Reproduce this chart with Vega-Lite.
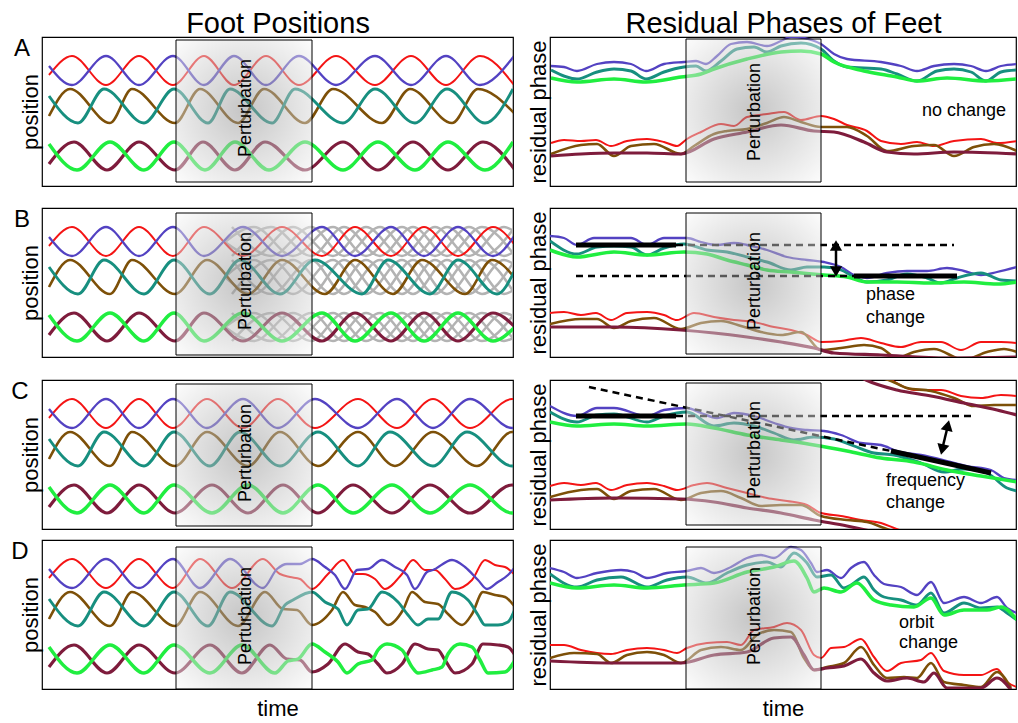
{
"$schema":"https://vega.github.io/schema/vega-lite/v6.json",
"background":"white",
"padding":{"left":10,"top":8,"right":0,"bottom":0},
"config":{"view":{"stroke":"black","strokeWidth":1.2},"font":"Liberation Sans","range":{"category":["#f41414","#5342c2","#7d5008","#178f7f","#7e1c3c","#20ee40"]}},
"datasets":{
"L":[
{"p":"*","f":1,"t":7,"v":111},{"p":"*","f":1,"t":30,"v":130},{"p":"*","f":1,"t":64,"v":101},{"p":"*","f":1,"t":97,"v":130},{"p":"*","f":1,"t":131,"v":101},
{"p":"*","f":2,"t":7,"v":120},{"p":"*","f":2,"t":30,"v":101},{"p":"*","f":2,"t":64,"v":130},{"p":"*","f":2,"t":97,"v":101},{"p":"*","f":2,"t":131,"v":130},
{"p":"*","f":3,"t":7,"v":70},{"p":"*","f":3,"t":28,"v":97},{"p":"*","f":3,"t":68,"v":63},{"p":"*","f":3,"t":90,"v":97},{"p":"*","f":3,"t":133,"v":63},
{"p":"*","f":4,"t":7,"v":90},{"p":"*","f":4,"t":36,"v":63},{"p":"*","f":4,"t":62,"v":97},{"p":"*","f":4,"t":102,"v":63},{"p":"*","f":4,"t":132,"v":97},
{"p":"*","f":5,"t":7,"v":22},{"p":"*","f":5,"t":32,"v":44},{"p":"*","f":5,"t":65,"v":16},{"p":"*","f":5,"t":97,"v":44},{"p":"*","f":5,"t":133,"v":16},
{"p":"*","f":6,"t":7,"v":42},{"p":"*","f":6,"t":35,"v":16},{"p":"*","f":6,"t":68,"v":44},{"p":"*","f":6,"t":102,"v":16},{"p":"*","f":6,"t":132,"v":44},
{"p":"A","f":1,"t":162,"v":130},{"p":"A","f":1,"t":192,"v":101},{"p":"A","f":1,"t":224,"v":130},{"p":"A","f":1,"t":257,"v":101},{"p":"A","f":1,"t":294,"v":130},{"p":"A","f":1,"t":333,"v":101},{"p":"A","f":1,"t":369,"v":130},{"p":"A","f":1,"t":404,"v":101},{"p":"A","f":1,"t":438,"v":130},{"p":"A","f":1,"t":472,"v":101},
{"p":"A","f":2,"t":162,"v":101},{"p":"A","f":2,"t":192,"v":130},{"p":"A","f":2,"t":224,"v":101},{"p":"A","f":2,"t":257,"v":130},{"p":"A","f":2,"t":294,"v":101},{"p":"A","f":2,"t":333,"v":130},{"p":"A","f":2,"t":369,"v":101},{"p":"A","f":2,"t":404,"v":130},{"p":"A","f":2,"t":438,"v":101},{"p":"A","f":2,"t":472,"v":130},
{"p":"A","f":3,"t":158,"v":97},{"p":"A","f":3,"t":196,"v":63},{"p":"A","f":3,"t":222,"v":97},{"p":"A","f":3,"t":263,"v":63},{"p":"A","f":3,"t":291,"v":97},{"p":"A","f":3,"t":340,"v":63},{"p":"A","f":3,"t":368,"v":97},{"p":"A","f":3,"t":410,"v":63},{"p":"A","f":3,"t":436,"v":97},{"p":"A","f":3,"t":473,"v":72},
{"p":"A","f":4,"t":166,"v":63},{"p":"A","f":4,"t":188,"v":97},{"p":"A","f":4,"t":230,"v":63},{"p":"A","f":4,"t":253,"v":97},{"p":"A","f":4,"t":301,"v":63},{"p":"A","f":4,"t":333,"v":97},{"p":"A","f":4,"t":373,"v":63},{"p":"A","f":4,"t":405,"v":97},{"p":"A","f":4,"t":443,"v":63},{"p":"A","f":4,"t":471,"v":97},
{"p":"A","f":5,"t":161,"v":44},{"p":"A","f":5,"t":193,"v":16},{"p":"A","f":5,"t":223,"v":44},{"p":"A","f":5,"t":263,"v":16},{"p":"A","f":5,"t":301,"v":44},{"p":"A","f":5,"t":336,"v":16},{"p":"A","f":5,"t":371,"v":44},{"p":"A","f":5,"t":406,"v":16},{"p":"A","f":5,"t":441,"v":44},{"p":"A","f":5,"t":473,"v":16},
{"p":"A","f":6,"t":163,"v":16},{"p":"A","f":6,"t":193,"v":44},{"p":"A","f":6,"t":227,"v":16},{"p":"A","f":6,"t":263,"v":44},{"p":"A","f":6,"t":301,"v":16},{"p":"A","f":6,"t":336,"v":44},{"p":"A","f":6,"t":373,"v":16},{"p":"A","f":6,"t":406,"v":44},{"p":"A","f":6,"t":443,"v":16},{"p":"A","f":6,"t":471,"v":44},
{"p":"B","f":1,"t":162,"v":130},{"p":"B","f":1,"t":201,"v":101},{"p":"B","f":1,"t":240,"v":130},{"p":"B","f":1,"t":280,"v":101},{"p":"B","f":1,"t":313,"v":130},{"p":"B","f":1,"t":349,"v":101},{"p":"B","f":1,"t":382,"v":130},{"p":"B","f":1,"t":416,"v":101},{"p":"B","f":1,"t":451,"v":130},{"p":"B","f":1,"t":473,"v":112},
{"p":"B","f":2,"t":162,"v":101},{"p":"B","f":2,"t":201,"v":130},{"p":"B","f":2,"t":240,"v":101},{"p":"B","f":2,"t":280,"v":130},{"p":"B","f":2,"t":313,"v":101},{"p":"B","f":2,"t":349,"v":130},{"p":"B","f":2,"t":382,"v":101},{"p":"B","f":2,"t":416,"v":130},{"p":"B","f":2,"t":451,"v":101},{"p":"B","f":2,"t":473,"v":122},
{"p":"B","f":3,"t":165,"v":97},{"p":"B","f":3,"t":206,"v":63},{"p":"B","f":3,"t":240,"v":97},{"p":"B","f":3,"t":283,"v":63},{"p":"B","f":3,"t":313,"v":97},{"p":"B","f":3,"t":351,"v":63},{"p":"B","f":3,"t":380,"v":97},{"p":"B","f":3,"t":423,"v":63},{"p":"B","f":3,"t":450,"v":97},{"p":"B","f":3,"t":473,"v":79},
{"p":"B","f":4,"t":168,"v":63},{"p":"B","f":4,"t":198,"v":97},{"p":"B","f":4,"t":238,"v":63},{"p":"B","f":4,"t":273,"v":97},{"p":"B","f":4,"t":320,"v":63},{"p":"B","f":4,"t":346,"v":97},{"p":"B","f":4,"t":388,"v":63},{"p":"B","f":4,"t":416,"v":97},{"p":"B","f":4,"t":455,"v":63},{"p":"B","f":4,"t":473,"v":87},
{"p":"B","f":5,"t":162,"v":44},{"p":"B","f":5,"t":201,"v":16},{"p":"B","f":5,"t":240,"v":44},{"p":"B","f":5,"t":280,"v":16},{"p":"B","f":5,"t":313,"v":44},{"p":"B","f":5,"t":349,"v":16},{"p":"B","f":5,"t":382,"v":44},{"p":"B","f":5,"t":416,"v":16},{"p":"B","f":5,"t":451,"v":44},{"p":"B","f":5,"t":473,"v":30},
{"p":"B","f":6,"t":162,"v":16},{"p":"B","f":6,"t":201,"v":44},{"p":"B","f":6,"t":240,"v":16},{"p":"B","f":6,"t":280,"v":44},{"p":"B","f":6,"t":313,"v":16},{"p":"B","f":6,"t":349,"v":44},{"p":"B","f":6,"t":382,"v":16},{"p":"B","f":6,"t":416,"v":44},{"p":"B","f":6,"t":451,"v":16},{"p":"B","f":6,"t":473,"v":30},
{"p":"C","f":1,"t":165,"v":130},{"p":"C","f":1,"t":201,"v":101},{"p":"C","f":1,"t":236,"v":130},{"p":"C","f":1,"t":273,"v":101},{"p":"C","f":1,"t":316,"v":130},{"p":"C","f":1,"t":355,"v":101},{"p":"C","f":1,"t":391,"v":130},{"p":"C","f":1,"t":428,"v":101},{"p":"C","f":1,"t":470,"v":130},{"p":"C","f":1,"t":476,"v":129},
{"p":"C","f":2,"t":165,"v":101},{"p":"C","f":2,"t":201,"v":130},{"p":"C","f":2,"t":236,"v":101},{"p":"C","f":2,"t":273,"v":130},{"p":"C","f":2,"t":316,"v":101},{"p":"C","f":2,"t":355,"v":130},{"p":"C","f":2,"t":391,"v":101},{"p":"C","f":2,"t":428,"v":130},{"p":"C","f":2,"t":470,"v":101},{"p":"C","f":2,"t":476,"v":102},
{"p":"C","f":3,"t":165,"v":97},{"p":"C","f":3,"t":206,"v":63},{"p":"C","f":3,"t":238,"v":97},{"p":"C","f":3,"t":276,"v":63},{"p":"C","f":3,"t":316,"v":97},{"p":"C","f":3,"t":353,"v":63},{"p":"C","f":3,"t":391,"v":97},{"p":"C","f":3,"t":435,"v":63},{"p":"C","f":3,"t":470,"v":97},{"p":"C","f":3,"t":476,"v":96},
{"p":"C","f":4,"t":168,"v":63},{"p":"C","f":4,"t":198,"v":97},{"p":"C","f":4,"t":238,"v":63},{"p":"C","f":4,"t":276,"v":97},{"p":"C","f":4,"t":316,"v":63},{"p":"C","f":4,"t":348,"v":97},{"p":"C","f":4,"t":391,"v":63},{"p":"C","f":4,"t":425,"v":97},{"p":"C","f":4,"t":470,"v":63},{"p":"C","f":4,"t":476,"v":64},
{"p":"C","f":5,"t":170,"v":44},{"p":"C","f":5,"t":206,"v":16},{"p":"C","f":5,"t":241,"v":44},{"p":"C","f":5,"t":276,"v":16},{"p":"C","f":5,"t":311,"v":44},{"p":"C","f":5,"t":350,"v":16},{"p":"C","f":5,"t":388,"v":44},{"p":"C","f":5,"t":428,"v":16},{"p":"C","f":5,"t":470,"v":44},{"p":"C","f":5,"t":476,"v":43},
{"p":"C","f":6,"t":170,"v":16},{"p":"C","f":6,"t":206,"v":44},{"p":"C","f":6,"t":241,"v":16},{"p":"C","f":6,"t":276,"v":44},{"p":"C","f":6,"t":311,"v":16},{"p":"C","f":6,"t":350,"v":44},{"p":"C","f":6,"t":388,"v":16},{"p":"C","f":6,"t":428,"v":44},{"p":"C","f":6,"t":470,"v":16},{"p":"C","f":6,"t":476,"v":17},
{"p":"D","f":1,"t":158,"v":130},{"p":"D","f":1,"t":190,"v":101},{"p":"D","f":1,"t":221,"v":130},{"p":"D","f":1,"t":238,"v":115},{"p":"D","f":1,"t":248,"v":112},{"p":"D","f":1,"t":258,"v":110},{"p":"D","f":1,"t":270,"v":100},{"p":"D","f":1,"t":286,"v":115},{"p":"D","f":1,"t":301,"v":129},{"p":"D","f":1,"t":313,"v":115},{"p":"D","f":1,"t":321,"v":115},{"p":"D","f":1,"t":333,"v":110},{"p":"D","f":1,"t":343,"v":100},{"p":"D","f":1,"t":360,"v":115},{"p":"D","f":1,"t":371,"v":129},{"p":"D","f":1,"t":383,"v":119},{"p":"D","f":1,"t":393,"v":119},{"p":"D","f":1,"t":403,"v":110},{"p":"D","f":1,"t":413,"v":100},{"p":"D","f":1,"t":430,"v":109},{"p":"D","f":1,"t":443,"v":129},{"p":"D","f":1,"t":453,"v":124},{"p":"D","f":1,"t":463,"v":122},{"p":"D","f":1,"t":473,"v":114},
{"p":"D","f":2,"t":158,"v":101},{"p":"D","f":2,"t":188,"v":130},{"p":"D","f":2,"t":221,"v":101},{"p":"D","f":2,"t":235,"v":120},{"p":"D","f":2,"t":245,"v":125},{"p":"D","f":2,"t":258,"v":125},{"p":"D","f":2,"t":270,"v":130},{"p":"D","f":2,"t":283,"v":122},{"p":"D","f":2,"t":293,"v":114},{"p":"D","f":2,"t":303,"v":100},{"p":"D","f":2,"t":315,"v":119},{"p":"D","f":2,"t":326,"v":120},{"p":"D","f":2,"t":340,"v":129},{"p":"D","f":2,"t":353,"v":122},{"p":"D","f":2,"t":365,"v":114},{"p":"D","f":2,"t":373,"v":100},{"p":"D","f":2,"t":385,"v":117},{"p":"D","f":2,"t":391,"v":119},{"p":"D","f":2,"t":410,"v":129},{"p":"D","f":2,"t":423,"v":122},{"p":"D","f":2,"t":436,"v":109},{"p":"D","f":2,"t":445,"v":100},{"p":"D","f":2,"t":456,"v":107},{"p":"D","f":2,"t":466,"v":114},{"p":"D","f":2,"t":473,"v":122},
{"p":"D","f":3,"t":158,"v":97},{"p":"D","f":3,"t":196,"v":63},{"p":"D","f":3,"t":223,"v":97},{"p":"D","f":3,"t":241,"v":80},{"p":"D","f":3,"t":255,"v":79},{"p":"D","f":3,"t":270,"v":64},{"p":"D","f":3,"t":290,"v":79},{"p":"D","f":3,"t":301,"v":97},{"p":"D","f":3,"t":313,"v":84},{"p":"D","f":3,"t":323,"v":82},{"p":"D","f":3,"t":333,"v":77},{"p":"D","f":3,"t":346,"v":64},{"p":"D","f":3,"t":361,"v":79},{"p":"D","f":3,"t":370,"v":97},{"p":"D","f":3,"t":383,"v":87},{"p":"D","f":3,"t":396,"v":85},{"p":"D","f":3,"t":406,"v":75},{"p":"D","f":3,"t":420,"v":64},{"p":"D","f":3,"t":430,"v":75},{"p":"D","f":3,"t":441,"v":97},{"p":"D","f":3,"t":453,"v":94},{"p":"D","f":3,"t":463,"v":92},{"p":"D","f":3,"t":473,"v":82},
{"p":"D","f":4,"t":166,"v":63},{"p":"D","f":4,"t":188,"v":97},{"p":"D","f":4,"t":230,"v":63},{"p":"D","f":4,"t":243,"v":84},{"p":"D","f":4,"t":251,"v":89},{"p":"D","f":4,"t":270,"v":97},{"p":"D","f":4,"t":283,"v":87},{"p":"D","f":4,"t":296,"v":80},{"p":"D","f":4,"t":305,"v":64},{"p":"D","f":4,"t":316,"v":79},{"p":"D","f":4,"t":326,"v":80},{"p":"D","f":4,"t":340,"v":97},{"p":"D","f":4,"t":356,"v":87},{"p":"D","f":4,"t":366,"v":74},{"p":"D","f":4,"t":376,"v":64},{"p":"D","f":4,"t":386,"v":70},{"p":"D","f":4,"t":396,"v":70},{"p":"D","f":4,"t":410,"v":97},{"p":"D","f":4,"t":426,"v":89},{"p":"D","f":4,"t":436,"v":74},{"p":"D","f":4,"t":443,"v":64},{"p":"D","f":4,"t":456,"v":64},{"p":"D","f":4,"t":466,"v":67},{"p":"D","f":4,"t":473,"v":80},
{"p":"D","f":5,"t":168,"v":44},{"p":"D","f":5,"t":200,"v":16},{"p":"D","f":5,"t":228,"v":44},{"p":"D","f":5,"t":245,"v":30},{"p":"D","f":5,"t":258,"v":29},{"p":"D","f":5,"t":270,"v":17},{"p":"D","f":5,"t":286,"v":25},{"p":"D","f":5,"t":303,"v":45},{"p":"D","f":5,"t":316,"v":37},{"p":"D","f":5,"t":326,"v":35},{"p":"D","f":5,"t":336,"v":25},{"p":"D","f":5,"t":345,"v":16},{"p":"D","f":5,"t":360,"v":25},{"p":"D","f":5,"t":373,"v":45},{"p":"D","f":5,"t":386,"v":40},{"p":"D","f":5,"t":396,"v":39},{"p":"D","f":5,"t":403,"v":29},{"p":"D","f":5,"t":413,"v":16},{"p":"D","f":5,"t":430,"v":25},{"p":"D","f":5,"t":441,"v":45},{"p":"D","f":5,"t":456,"v":44},{"p":"D","f":5,"t":466,"v":42},{"p":"D","f":5,"t":473,"v":34},
{"p":"D","f":6,"t":168,"v":16},{"p":"D","f":6,"t":200,"v":44},{"p":"D","f":6,"t":233,"v":16},{"p":"D","f":6,"t":246,"v":28},{"p":"D","f":6,"t":256,"v":30},{"p":"D","f":6,"t":270,"v":45},{"p":"D","f":6,"t":283,"v":37},{"p":"D","f":6,"t":296,"v":27},{"p":"D","f":6,"t":305,"v":16},{"p":"D","f":6,"t":316,"v":25},{"p":"D","f":6,"t":330,"v":29},{"p":"D","f":6,"t":336,"v":39},{"p":"D","f":6,"t":345,"v":45},{"p":"D","f":6,"t":360,"v":39},{"p":"D","f":6,"t":370,"v":22},{"p":"D","f":6,"t":376,"v":16},{"p":"D","f":6,"t":390,"v":19},{"p":"D","f":6,"t":400,"v":22},{"p":"D","f":6,"t":406,"v":35},{"p":"D","f":6,"t":418,"v":45},{"p":"D","f":6,"t":430,"v":42},{"p":"D","f":6,"t":438,"v":29},{"p":"D","f":6,"t":446,"v":16},{"p":"D","f":6,"t":463,"v":17},{"p":"D","f":6,"t":473,"v":29}
],
"G":[
{"s":"ta","t":183,"v":115},{"s":"ta","t":212,"v":130},{"s":"ta","t":251,"v":101},{"s":"ta","t":291,"v":130},{"s":"ta","t":324,"v":101},{"s":"ta","t":360,"v":130},{"s":"ta","t":393,"v":101},{"s":"ta","t":427,"v":130},{"s":"ta","t":462,"v":101},{"s":"ta","t":473,"v":106},
{"s":"tb","t":183,"v":115},{"s":"tb","t":212,"v":101},{"s":"tb","t":251,"v":130},{"s":"tb","t":291,"v":101},{"s":"tb","t":324,"v":130},{"s":"tb","t":360,"v":101},{"s":"tb","t":393,"v":130},{"s":"tb","t":427,"v":101},{"s":"tb","t":462,"v":130},{"s":"tb","t":473,"v":125},
{"s":"tc","t":190,"v":130},{"s":"tc","t":229,"v":101},{"s":"tc","t":269,"v":130},{"s":"tc","t":302,"v":101},{"s":"tc","t":338,"v":130},{"s":"tc","t":371,"v":101},{"s":"tc","t":405,"v":130},{"s":"tc","t":440,"v":101},{"s":"tc","t":473,"v":130},
{"s":"td","t":190,"v":101},{"s":"td","t":229,"v":130},{"s":"td","t":269,"v":101},{"s":"td","t":302,"v":130},{"s":"td","t":338,"v":101},{"s":"td","t":371,"v":130},{"s":"td","t":405,"v":101},{"s":"td","t":440,"v":130},{"s":"td","t":473,"v":101},
{"s":"ma","t":183,"v":80},{"s":"ma","t":212,"v":97},{"s":"ma","t":251,"v":63},{"s":"ma","t":291,"v":97},{"s":"ma","t":324,"v":63},{"s":"ma","t":360,"v":97},{"s":"ma","t":393,"v":63},{"s":"ma","t":427,"v":97},{"s":"ma","t":462,"v":63},{"s":"ma","t":473,"v":68},
{"s":"mb","t":183,"v":80},{"s":"mb","t":212,"v":63},{"s":"mb","t":251,"v":97},{"s":"mb","t":291,"v":63},{"s":"mb","t":324,"v":97},{"s":"mb","t":360,"v":63},{"s":"mb","t":393,"v":97},{"s":"mb","t":427,"v":63},{"s":"mb","t":462,"v":97},{"s":"mb","t":473,"v":92},
{"s":"mc","t":190,"v":97},{"s":"mc","t":229,"v":63},{"s":"mc","t":269,"v":97},{"s":"mc","t":302,"v":63},{"s":"mc","t":338,"v":97},{"s":"mc","t":371,"v":63},{"s":"mc","t":405,"v":97},{"s":"mc","t":440,"v":63},{"s":"mc","t":473,"v":97},
{"s":"md","t":190,"v":63},{"s":"md","t":229,"v":97},{"s":"md","t":269,"v":63},{"s":"md","t":302,"v":97},{"s":"md","t":338,"v":63},{"s":"md","t":371,"v":97},{"s":"md","t":405,"v":63},{"s":"md","t":440,"v":97},{"s":"md","t":473,"v":63},
{"s":"ba","t":183,"v":30},{"s":"ba","t":212,"v":44},{"s":"ba","t":251,"v":16},{"s":"ba","t":291,"v":44},{"s":"ba","t":324,"v":16},{"s":"ba","t":360,"v":44},{"s":"ba","t":393,"v":16},{"s":"ba","t":427,"v":44},{"s":"ba","t":462,"v":16},{"s":"ba","t":473,"v":20},
{"s":"bb","t":183,"v":30},{"s":"bb","t":212,"v":16},{"s":"bb","t":251,"v":44},{"s":"bb","t":291,"v":16},{"s":"bb","t":324,"v":44},{"s":"bb","t":360,"v":16},{"s":"bb","t":393,"v":44},{"s":"bb","t":427,"v":16},{"s":"bb","t":462,"v":44},{"s":"bb","t":473,"v":40},
{"s":"bc","t":190,"v":44},{"s":"bc","t":229,"v":16},{"s":"bc","t":269,"v":44},{"s":"bc","t":302,"v":16},{"s":"bc","t":338,"v":44},{"s":"bc","t":371,"v":16},{"s":"bc","t":405,"v":44},{"s":"bc","t":440,"v":16},{"s":"bc","t":473,"v":44},
{"s":"bd","t":190,"v":16},{"s":"bd","t":229,"v":44},{"s":"bd","t":269,"v":16},{"s":"bd","t":302,"v":44},{"s":"bd","t":338,"v":16},{"s":"bd","t":371,"v":44},{"s":"bd","t":405,"v":16},{"s":"bd","t":440,"v":44},{"s":"bd","t":473,"v":16}
],
"R":[
{"p":"A","f":2,"t":1,"v":120},{"p":"A","f":2,"t":14,"v":119},{"p":"A","f":2,"t":27,"v":115},{"p":"A","f":2,"t":47,"v":122},{"p":"A","f":2,"t":64,"v":124},{"p":"A","f":2,"t":81,"v":122},{"p":"A","f":2,"t":96,"v":115},{"p":"A","f":2,"t":114,"v":122},{"p":"A","f":2,"t":134,"v":124},{"p":"A","f":2,"t":146,"v":125},{"p":"A","f":2,"t":156,"v":122},{"p":"A","f":2,"t":167,"v":130},{"p":"A","f":2,"t":181,"v":142},{"p":"A","f":2,"t":197,"v":144},{"p":"A","f":2,"t":217,"v":140},{"p":"A","f":2,"t":231,"v":145},{"p":"A","f":2,"t":241,"v":149},{"p":"A","f":2,"t":254,"v":148},{"p":"A","f":2,"t":271,"v":142},{"p":"A","f":2,"t":284,"v":132},{"p":"A","f":2,"t":297,"v":127},{"p":"A","f":2,"t":331,"v":124},{"p":"A","f":2,"t":351,"v":120},{"p":"A","f":2,"t":367,"v":115},{"p":"A","f":2,"t":384,"v":120},{"p":"A","f":2,"t":404,"v":122},{"p":"A","f":2,"t":421,"v":120},{"p":"A","f":2,"t":436,"v":115},{"p":"A","f":2,"t":451,"v":120},{"p":"A","f":2,"t":467,"v":122},
{"p":"A","f":4,"t":1,"v":116},{"p":"A","f":4,"t":27,"v":107},{"p":"A","f":4,"t":47,"v":114},{"p":"A","f":4,"t":64,"v":117},{"p":"A","f":4,"t":81,"v":115},{"p":"A","f":4,"t":96,"v":107},{"p":"A","f":4,"t":114,"v":114},{"p":"A","f":4,"t":134,"v":119},{"p":"A","f":4,"t":146,"v":120},{"p":"A","f":4,"t":156,"v":115},{"p":"A","f":4,"t":171,"v":125},{"p":"A","f":4,"t":187,"v":137},{"p":"A","f":4,"t":204,"v":139},{"p":"A","f":4,"t":217,"v":134},{"p":"A","f":4,"t":231,"v":140},{"p":"A","f":4,"t":251,"v":143},{"p":"A","f":4,"t":271,"v":137},{"p":"A","f":4,"t":284,"v":125},{"p":"A","f":4,"t":297,"v":119},{"p":"A","f":4,"t":331,"v":117},{"p":"A","f":4,"t":347,"v":112},{"p":"A","f":4,"t":367,"v":105},{"p":"A","f":4,"t":387,"v":115},{"p":"A","f":4,"t":404,"v":117},{"p":"A","f":4,"t":421,"v":114},{"p":"A","f":4,"t":436,"v":105},{"p":"A","f":4,"t":451,"v":114},{"p":"A","f":4,"t":467,"v":116},
{"p":"A","f":6,"t":1,"v":108},{"p":"A","f":6,"t":27,"v":104},{"p":"A","f":6,"t":64,"v":107},{"p":"A","f":6,"t":96,"v":104},{"p":"A","f":6,"t":131,"v":109},{"p":"A","f":6,"t":151,"v":112},{"p":"A","f":6,"t":164,"v":117},{"p":"A","f":6,"t":197,"v":127},{"p":"A","f":6,"t":231,"v":134},{"p":"A","f":6,"t":251,"v":135},{"p":"A","f":6,"t":271,"v":132},{"p":"A","f":6,"t":284,"v":124},{"p":"A","f":6,"t":314,"v":115},{"p":"A","f":6,"t":347,"v":109},{"p":"A","f":6,"t":367,"v":105},{"p":"A","f":6,"t":397,"v":108},{"p":"A","f":6,"t":436,"v":105},{"p":"A","f":6,"t":467,"v":107},
{"p":"A","f":1,"t":1,"v":43},{"p":"A","f":1,"t":14,"v":46},{"p":"A","f":1,"t":31,"v":45},{"p":"A","f":1,"t":46,"v":46},{"p":"A","f":1,"t":61,"v":40},{"p":"A","f":1,"t":77,"v":45},{"p":"A","f":1,"t":97,"v":47},{"p":"A","f":1,"t":114,"v":44},{"p":"A","f":1,"t":127,"v":40},{"p":"A","f":1,"t":137,"v":47},{"p":"A","f":1,"t":151,"v":54},{"p":"A","f":1,"t":171,"v":62},{"p":"A","f":1,"t":184,"v":60},{"p":"A","f":1,"t":197,"v":69},{"p":"A","f":1,"t":217,"v":72},{"p":"A","f":1,"t":234,"v":74},{"p":"A","f":1,"t":251,"v":66},{"p":"A","f":1,"t":271,"v":70},{"p":"A","f":1,"t":284,"v":67},{"p":"A","f":1,"t":297,"v":61},{"p":"A","f":1,"t":317,"v":55},{"p":"A","f":1,"t":331,"v":45},{"p":"A","f":1,"t":351,"v":42},{"p":"A","f":1,"t":367,"v":44},{"p":"A","f":1,"t":384,"v":40},{"p":"A","f":1,"t":404,"v":45},{"p":"A","f":1,"t":431,"v":47},{"p":"A","f":1,"t":447,"v":43},{"p":"A","f":1,"t":467,"v":45},
{"p":"A","f":3,"t":1,"v":32},{"p":"A","f":3,"t":31,"v":41},{"p":"A","f":3,"t":47,"v":42},{"p":"A","f":3,"t":64,"v":30},{"p":"A","f":3,"t":81,"v":40},{"p":"A","f":3,"t":104,"v":42},{"p":"A","f":3,"t":131,"v":32},{"p":"A","f":3,"t":144,"v":40},{"p":"A","f":3,"t":164,"v":52},{"p":"A","f":3,"t":177,"v":55},{"p":"A","f":3,"t":197,"v":57},{"p":"A","f":3,"t":217,"v":63},{"p":"A","f":3,"t":234,"v":69},{"p":"A","f":3,"t":251,"v":64},{"p":"A","f":3,"t":271,"v":59},{"p":"A","f":3,"t":297,"v":59},{"p":"A","f":3,"t":317,"v":50},{"p":"A","f":3,"t":337,"v":35},{"p":"A","f":3,"t":364,"v":40},{"p":"A","f":3,"t":384,"v":41},{"p":"A","f":3,"t":404,"v":30},{"p":"A","f":3,"t":424,"v":39},{"p":"A","f":3,"t":444,"v":42},{"p":"A","f":3,"t":467,"v":35},
{"p":"A","f":5,"t":1,"v":30},{"p":"A","f":5,"t":31,"v":32},{"p":"A","f":5,"t":64,"v":33},{"p":"A","f":5,"t":97,"v":33},{"p":"A","f":5,"t":131,"v":32},{"p":"A","f":5,"t":164,"v":47},{"p":"A","f":5,"t":197,"v":54},{"p":"A","f":5,"t":231,"v":61},{"p":"A","f":5,"t":264,"v":55},{"p":"A","f":5,"t":284,"v":54},{"p":"A","f":5,"t":314,"v":44},{"p":"A","f":5,"t":337,"v":34},{"p":"A","f":5,"t":364,"v":32},{"p":"A","f":5,"t":404,"v":34},{"p":"A","f":5,"t":467,"v":32},
{"p":"B","f":2,"t":0,"v":121},{"p":"B","f":2,"t":14,"v":119},{"p":"B","f":2,"t":27,"v":112},{"p":"B","f":2,"t":44,"v":119},{"p":"B","f":2,"t":64,"v":119},{"p":"B","f":2,"t":81,"v":119},{"p":"B","f":2,"t":97,"v":112},{"p":"B","f":2,"t":114,"v":119},{"p":"B","f":2,"t":137,"v":119},{"p":"B","f":2,"t":151,"v":115},{"p":"B","f":2,"t":167,"v":112},{"p":"B","f":2,"t":184,"v":114},{"p":"B","f":2,"t":197,"v":112},{"p":"B","f":2,"t":217,"v":107},{"p":"B","f":2,"t":237,"v":100},{"p":"B","f":2,"t":257,"v":97},{"p":"B","f":2,"t":274,"v":95},{"p":"B","f":2,"t":291,"v":90},{"p":"B","f":2,"t":304,"v":82},{"p":"B","f":2,"t":317,"v":79},{"p":"B","f":2,"t":337,"v":84},{"p":"B","f":2,"t":357,"v":86},{"p":"B","f":2,"t":377,"v":86},{"p":"B","f":2,"t":397,"v":89},{"p":"B","f":2,"t":414,"v":86},{"p":"B","f":2,"t":431,"v":82},{"p":"B","f":2,"t":447,"v":85},{"p":"B","f":2,"t":467,"v":90},
{"p":"B","f":4,"t":0,"v":116},{"p":"B","f":4,"t":27,"v":103},{"p":"B","f":4,"t":47,"v":110},{"p":"B","f":4,"t":64,"v":111},{"p":"B","f":4,"t":81,"v":110},{"p":"B","f":4,"t":97,"v":102},{"p":"B","f":4,"t":114,"v":109},{"p":"B","f":4,"t":134,"v":113},{"p":"B","f":4,"t":157,"v":107},{"p":"B","f":4,"t":177,"v":105},{"p":"B","f":4,"t":197,"v":100},{"p":"B","f":4,"t":217,"v":95},{"p":"B","f":4,"t":241,"v":87},{"p":"B","f":4,"t":257,"v":90},{"p":"B","f":4,"t":274,"v":90},{"p":"B","f":4,"t":291,"v":87},{"p":"B","f":4,"t":304,"v":80},{"p":"B","f":4,"t":317,"v":75},{"p":"B","f":4,"t":337,"v":77},{"p":"B","f":4,"t":357,"v":83},{"p":"B","f":4,"t":377,"v":79},{"p":"B","f":4,"t":391,"v":74},{"p":"B","f":4,"t":407,"v":79},{"p":"B","f":4,"t":431,"v":84},{"p":"B","f":4,"t":451,"v":77},{"p":"B","f":4,"t":467,"v":76},
{"p":"B","f":6,"t":0,"v":107},{"p":"B","f":6,"t":27,"v":100},{"p":"B","f":6,"t":64,"v":105},{"p":"B","f":6,"t":97,"v":102},{"p":"B","f":6,"t":134,"v":105},{"p":"B","f":6,"t":157,"v":103},{"p":"B","f":6,"t":177,"v":97},{"p":"B","f":6,"t":197,"v":92},{"p":"B","f":6,"t":217,"v":87},{"p":"B","f":6,"t":241,"v":85},{"p":"B","f":6,"t":274,"v":82},{"p":"B","f":6,"t":297,"v":80},{"p":"B","f":6,"t":317,"v":75},{"p":"B","f":6,"t":347,"v":75},{"p":"B","f":6,"t":381,"v":74},{"p":"B","f":6,"t":414,"v":75},{"p":"B","f":6,"t":447,"v":73},{"p":"B","f":6,"t":467,"v":75},
{"p":"B","f":1,"t":0,"v":44},{"p":"B","f":1,"t":14,"v":45},{"p":"B","f":1,"t":31,"v":42},{"p":"B","f":1,"t":46,"v":44},{"p":"B","f":1,"t":61,"v":37},{"p":"B","f":1,"t":77,"v":44},{"p":"B","f":1,"t":97,"v":45},{"p":"B","f":1,"t":114,"v":42},{"p":"B","f":1,"t":127,"v":37},{"p":"B","f":1,"t":144,"v":44},{"p":"B","f":1,"t":164,"v":40},{"p":"B","f":1,"t":184,"v":37},{"p":"B","f":1,"t":204,"v":35},{"p":"B","f":1,"t":224,"v":30},{"p":"B","f":1,"t":241,"v":27},{"p":"B","f":1,"t":257,"v":22},{"p":"B","f":1,"t":271,"v":15},{"p":"B","f":1,"t":291,"v":16},{"p":"B","f":1,"t":311,"v":19},{"p":"B","f":1,"t":331,"v":14},{"p":"B","f":1,"t":351,"v":10},{"p":"B","f":1,"t":371,"v":15},{"p":"B","f":1,"t":391,"v":15},{"p":"B","f":1,"t":411,"v":7},{"p":"B","f":1,"t":431,"v":15},{"p":"B","f":1,"t":451,"v":15},{"p":"B","f":1,"t":467,"v":14},
{"p":"B","f":3,"t":0,"v":33},{"p":"B","f":3,"t":31,"v":38},{"p":"B","f":3,"t":47,"v":38},{"p":"B","f":3,"t":64,"v":29},{"p":"B","f":3,"t":81,"v":36},{"p":"B","f":3,"t":104,"v":39},{"p":"B","f":3,"t":131,"v":28},{"p":"B","f":3,"t":151,"v":34},{"p":"B","f":3,"t":171,"v":36},{"p":"B","f":3,"t":191,"v":31},{"p":"B","f":3,"t":211,"v":25},{"p":"B","f":3,"t":231,"v":22},{"p":"B","f":3,"t":251,"v":25},{"p":"B","f":3,"t":271,"v":7},{"p":"B","f":3,"t":291,"v":9},{"p":"B","f":3,"t":314,"v":12},{"p":"B","f":3,"t":331,"v":9},{"p":"B","f":3,"t":347,"v":-1},{"p":"B","f":3,"t":364,"v":5},{"p":"B","f":3,"t":384,"v":8},{"p":"B","f":3,"t":414,"v":-3},{"p":"B","f":3,"t":437,"v":5},{"p":"B","f":3,"t":454,"v":8},{"p":"B","f":3,"t":467,"v":5},
{"p":"B","f":5,"t":0,"v":30},{"p":"B","f":5,"t":64,"v":30},{"p":"B","f":5,"t":131,"v":27},{"p":"B","f":5,"t":164,"v":24},{"p":"B","f":5,"t":197,"v":20},{"p":"B","f":5,"t":231,"v":15},{"p":"B","f":5,"t":264,"v":9},{"p":"B","f":5,"t":284,"v":4},{"p":"B","f":5,"t":331,"v":2},{"p":"B","f":5,"t":397,"v":-1},{"p":"B","f":5,"t":467,"v":0},
{"p":"C","f":2,"t":0,"v":123},{"p":"C","f":2,"t":27,"v":113},{"p":"C","f":2,"t":47,"v":121},{"p":"C","f":2,"t":64,"v":121},{"p":"C","f":2,"t":97,"v":113},{"p":"C","f":2,"t":114,"v":119},{"p":"C","f":2,"t":137,"v":121},{"p":"C","f":2,"t":151,"v":116},{"p":"C","f":2,"t":167,"v":111},{"p":"C","f":2,"t":184,"v":116},{"p":"C","f":2,"t":204,"v":113},{"p":"C","f":2,"t":224,"v":106},{"p":"C","f":2,"t":241,"v":101},{"p":"C","f":2,"t":257,"v":99},{"p":"C","f":2,"t":274,"v":98},{"p":"C","f":2,"t":291,"v":94},{"p":"C","f":2,"t":311,"v":86},{"p":"C","f":2,"t":331,"v":84},{"p":"C","f":2,"t":347,"v":78},{"p":"C","f":2,"t":371,"v":74},{"p":"C","f":2,"t":397,"v":68},{"p":"C","f":2,"t":417,"v":63},{"p":"C","f":2,"t":441,"v":59},{"p":"C","f":2,"t":454,"v":51},{"p":"C","f":2,"t":467,"v":49},
{"p":"C","f":4,"t":0,"v":117},{"p":"C","f":4,"t":27,"v":107},{"p":"C","f":4,"t":47,"v":114},{"p":"C","f":4,"t":64,"v":115},{"p":"C","f":4,"t":97,"v":107},{"p":"C","f":4,"t":114,"v":113},{"p":"C","f":4,"t":137,"v":117},{"p":"C","f":4,"t":164,"v":103},{"p":"C","f":4,"t":184,"v":106},{"p":"C","f":4,"t":204,"v":103},{"p":"C","f":4,"t":224,"v":96},{"p":"C","f":4,"t":244,"v":89},{"p":"C","f":4,"t":264,"v":92},{"p":"C","f":4,"t":284,"v":90},{"p":"C","f":4,"t":304,"v":83},{"p":"C","f":4,"t":324,"v":76},{"p":"C","f":4,"t":344,"v":74},{"p":"C","f":4,"t":371,"v":66},{"p":"C","f":4,"t":394,"v":57},{"p":"C","f":4,"t":414,"v":60},{"p":"C","f":4,"t":437,"v":56},{"p":"C","f":4,"t":457,"v":41},{"p":"C","f":4,"t":467,"v":38},
{"p":"C","f":6,"t":0,"v":107},{"p":"C","f":6,"t":27,"v":103},{"p":"C","f":6,"t":64,"v":105},{"p":"C","f":6,"t":97,"v":103},{"p":"C","f":6,"t":137,"v":105},{"p":"C","f":6,"t":164,"v":101},{"p":"C","f":6,"t":197,"v":94},{"p":"C","f":6,"t":231,"v":89},{"p":"C","f":6,"t":264,"v":84},{"p":"C","f":6,"t":297,"v":78},{"p":"C","f":6,"t":331,"v":71},{"p":"C","f":6,"t":364,"v":67},{"p":"C","f":6,"t":397,"v":59},{"p":"C","f":6,"t":431,"v":53},{"p":"C","f":6,"t":467,"v":47},
{"p":"C","f":1,"t":0,"v":43},{"p":"C","f":1,"t":14,"v":46},{"p":"C","f":1,"t":31,"v":44},{"p":"C","f":1,"t":46,"v":46},{"p":"C","f":1,"t":61,"v":39},{"p":"C","f":1,"t":77,"v":44},{"p":"C","f":1,"t":97,"v":46},{"p":"C","f":1,"t":114,"v":43},{"p":"C","f":1,"t":127,"v":39},{"p":"C","f":1,"t":144,"v":44},{"p":"C","f":1,"t":157,"v":46},{"p":"C","f":1,"t":177,"v":41},{"p":"C","f":1,"t":197,"v":36},{"p":"C","f":1,"t":217,"v":31},{"p":"C","f":1,"t":237,"v":28},{"p":"C","f":1,"t":257,"v":24},{"p":"C","f":1,"t":271,"v":16},{"p":"C","f":1,"t":291,"v":13},{"p":"C","f":1,"t":311,"v":9},{"p":"C","f":1,"t":331,"v":6},{"p":"C","f":1,"t":344,"v":1},{"p":"C","f":1,"t":360,"v":-5},
{"p":"C","f":3,"t":0,"v":32},{"p":"C","f":3,"t":31,"v":39},{"p":"C","f":3,"t":47,"v":40},{"p":"C","f":3,"t":64,"v":30},{"p":"C","f":3,"t":81,"v":38},{"p":"C","f":3,"t":104,"v":40},{"p":"C","f":3,"t":131,"v":29},{"p":"C","f":3,"t":151,"v":36},{"p":"C","f":3,"t":171,"v":38},{"p":"C","f":3,"t":191,"v":31},{"p":"C","f":3,"t":211,"v":23},{"p":"C","f":3,"t":231,"v":24},{"p":"C","f":3,"t":251,"v":24},{"p":"C","f":3,"t":271,"v":13},{"p":"C","f":3,"t":297,"v":9},{"p":"C","f":3,"t":317,"v":7},{"p":"C","f":3,"t":334,"v":1},{"p":"C","f":3,"t":350,"v":-5},
{"p":"C","f":5,"t":0,"v":29},{"p":"C","f":5,"t":64,"v":31},{"p":"C","f":5,"t":131,"v":30},{"p":"C","f":5,"t":164,"v":27},{"p":"C","f":5,"t":197,"v":21},{"p":"C","f":5,"t":231,"v":16},{"p":"C","f":5,"t":264,"v":9},{"p":"C","f":5,"t":297,"v":3},{"p":"C","f":5,"t":311,"v":0},{"p":"C","f":5,"t":325,"v":-3},
{"p":"C","f":1,"s":"w","t":335,"v":152},{"p":"C","f":1,"s":"w","t":341,"v":149},{"p":"C","f":1,"s":"w","t":364,"v":139},{"p":"C","f":1,"s":"w","t":391,"v":139},{"p":"C","f":1,"s":"w","t":411,"v":133},{"p":"C","f":1,"s":"w","t":431,"v":131},{"p":"C","f":1,"s":"w","t":451,"v":134},{"p":"C","f":1,"s":"w","t":467,"v":133},
{"p":"C","f":3,"s":"w","t":335,"v":150},{"p":"C","f":3,"s":"w","t":341,"v":148},{"p":"C","f":3,"s":"w","t":357,"v":141},{"p":"C","f":3,"s":"w","t":381,"v":138},{"p":"C","f":3,"s":"w","t":404,"v":131},{"p":"C","f":3,"s":"w","t":424,"v":123},{"p":"C","f":3,"s":"w","t":444,"v":124},{"p":"C","f":3,"s":"w","t":467,"v":124},
{"p":"C","f":5,"s":"w","t":310,"v":152},{"p":"C","f":5,"s":"w","t":316,"v":149},{"p":"C","f":5,"s":"w","t":347,"v":139},{"p":"C","f":5,"s":"w","t":381,"v":133},{"p":"C","f":5,"s":"w","t":414,"v":126},{"p":"C","f":5,"s":"w","t":447,"v":119},{"p":"C","f":5,"s":"w","t":467,"v":114},
{"p":"D","f":2,"t":0,"v":121},{"p":"D","f":2,"t":14,"v":117},{"p":"D","f":2,"t":27,"v":111},{"p":"D","f":2,"t":47,"v":116},{"p":"D","f":2,"t":71,"v":119},{"p":"D","f":2,"t":84,"v":117},{"p":"D","f":2,"t":97,"v":111},{"p":"D","f":2,"t":117,"v":116},{"p":"D","f":2,"t":137,"v":118},{"p":"D","f":2,"t":151,"v":121},{"p":"D","f":2,"t":164,"v":116},{"p":"D","f":2,"t":181,"v":122},{"p":"D","f":2,"t":197,"v":131},{"p":"D","f":2,"t":211,"v":134},{"p":"D","f":2,"t":224,"v":131},{"p":"D","f":2,"t":241,"v":142},{"p":"D","f":2,"t":251,"v":139},{"p":"D","f":2,"t":261,"v":126},{"p":"D","f":2,"t":267,"v":117},{"p":"D","f":2,"t":277,"v":119},{"p":"D","f":2,"t":291,"v":111},{"p":"D","f":2,"t":301,"v":121},{"p":"D","f":2,"t":314,"v":127},{"p":"D","f":2,"t":324,"v":114},{"p":"D","f":2,"t":334,"v":105},{"p":"D","f":2,"t":351,"v":102},{"p":"D","f":2,"t":367,"v":94},{"p":"D","f":2,"t":381,"v":107},{"p":"D","f":2,"t":394,"v":86},{"p":"D","f":2,"t":414,"v":92},{"p":"D","f":2,"t":431,"v":86},{"p":"D","f":2,"t":447,"v":92},{"p":"D","f":2,"t":457,"v":81},{"p":"D","f":2,"t":467,"v":76},
{"p":"D","f":4,"t":0,"v":115},{"p":"D","f":4,"t":27,"v":102},{"p":"D","f":4,"t":47,"v":109},{"p":"D","f":4,"t":71,"v":112},{"p":"D","f":4,"t":97,"v":102},{"p":"D","f":4,"t":117,"v":109},{"p":"D","f":4,"t":137,"v":112},{"p":"D","f":4,"t":157,"v":106},{"p":"D","f":4,"t":177,"v":116},{"p":"D","f":4,"t":197,"v":124},{"p":"D","f":4,"t":217,"v":127},{"p":"D","f":4,"t":231,"v":122},{"p":"D","f":4,"t":244,"v":136},{"p":"D","f":4,"t":257,"v":126},{"p":"D","f":4,"t":267,"v":112},{"p":"D","f":4,"t":281,"v":114},{"p":"D","f":4,"t":294,"v":101},{"p":"D","f":4,"t":301,"v":104},{"p":"D","f":4,"t":314,"v":112},{"p":"D","f":4,"t":324,"v":99},{"p":"D","f":4,"t":334,"v":92},{"p":"D","f":4,"t":351,"v":89},{"p":"D","f":4,"t":367,"v":84},{"p":"D","f":4,"t":381,"v":96},{"p":"D","f":4,"t":394,"v":76},{"p":"D","f":4,"t":414,"v":86},{"p":"D","f":4,"t":431,"v":81},{"p":"D","f":4,"t":447,"v":82},{"p":"D","f":4,"t":457,"v":76},{"p":"D","f":4,"t":467,"v":69},
{"p":"D","f":6,"t":0,"v":106},{"p":"D","f":6,"t":27,"v":101},{"p":"D","f":6,"t":64,"v":104},{"p":"D","f":6,"t":97,"v":101},{"p":"D","f":6,"t":134,"v":104},{"p":"D","f":6,"t":164,"v":106},{"p":"D","f":6,"t":197,"v":117},{"p":"D","f":6,"t":224,"v":122},{"p":"D","f":6,"t":244,"v":128},{"p":"D","f":6,"t":257,"v":111},{"p":"D","f":6,"t":264,"v":97},{"p":"D","f":6,"t":274,"v":101},{"p":"D","f":6,"t":291,"v":97},{"p":"D","f":6,"t":307,"v":106},{"p":"D","f":6,"t":324,"v":89},{"p":"D","f":6,"t":341,"v":84},{"p":"D","f":6,"t":364,"v":82},{"p":"D","f":6,"t":381,"v":91},{"p":"D","f":6,"t":394,"v":74},{"p":"D","f":6,"t":414,"v":79},{"p":"D","f":6,"t":437,"v":79},{"p":"D","f":6,"t":451,"v":82},{"p":"D","f":6,"t":467,"v":69},
{"p":"D","f":1,"t":0,"v":44},{"p":"D","f":1,"t":14,"v":44},{"p":"D","f":1,"t":31,"v":39},{"p":"D","f":1,"t":61,"v":35},{"p":"D","f":1,"t":77,"v":39},{"p":"D","f":1,"t":97,"v":41},{"p":"D","f":1,"t":114,"v":39},{"p":"D","f":1,"t":127,"v":36},{"p":"D","f":1,"t":137,"v":41},{"p":"D","f":1,"t":157,"v":46},{"p":"D","f":1,"t":177,"v":47},{"p":"D","f":1,"t":191,"v":44},{"p":"D","f":1,"t":204,"v":59},{"p":"D","f":1,"t":224,"v":62},{"p":"D","f":1,"t":237,"v":66},{"p":"D","f":1,"t":251,"v":59},{"p":"D","f":1,"t":264,"v":34},{"p":"D","f":1,"t":271,"v":31},{"p":"D","f":1,"t":281,"v":41},{"p":"D","f":1,"t":294,"v":42},{"p":"D","f":1,"t":311,"v":50},{"p":"D","f":1,"t":324,"v":32},{"p":"D","f":1,"t":337,"v":18},{"p":"D","f":1,"t":351,"v":26},{"p":"D","f":1,"t":371,"v":29},{"p":"D","f":1,"t":381,"v":36},{"p":"D","f":1,"t":394,"v":18},{"p":"D","f":1,"t":414,"v":14},{"p":"D","f":1,"t":431,"v":14},{"p":"D","f":1,"t":447,"v":20},{"p":"D","f":1,"t":457,"v":7},{"p":"D","f":1,"t":467,"v":2},
{"p":"D","f":3,"t":0,"v":31},{"p":"D","f":3,"t":24,"v":36},{"p":"D","f":3,"t":47,"v":35},{"p":"D","f":3,"t":61,"v":26},{"p":"D","f":3,"t":77,"v":34},{"p":"D","f":3,"t":97,"v":37},{"p":"D","f":3,"t":114,"v":34},{"p":"D","f":3,"t":131,"v":26},{"p":"D","f":3,"t":151,"v":39},{"p":"D","f":3,"t":171,"v":42},{"p":"D","f":3,"t":191,"v":39},{"p":"D","f":3,"t":207,"v":54},{"p":"D","f":3,"t":224,"v":59},{"p":"D","f":3,"t":241,"v":57},{"p":"D","f":3,"t":254,"v":31},{"p":"D","f":3,"t":264,"v":19},{"p":"D","f":3,"t":277,"v":22},{"p":"D","f":3,"t":294,"v":26},{"p":"D","f":3,"t":311,"v":42},{"p":"D","f":3,"t":324,"v":24},{"p":"D","f":3,"t":337,"v":11},{"p":"D","f":3,"t":354,"v":12},{"p":"D","f":3,"t":367,"v":11},{"p":"D","f":3,"t":381,"v":26},{"p":"D","f":3,"t":394,"v":7},{"p":"D","f":3,"t":414,"v":4},{"p":"D","f":3,"t":431,"v":2},{"p":"D","f":3,"t":447,"v":17},{"p":"D","f":3,"t":461,"v":1},
{"p":"D","f":5,"t":0,"v":28},{"p":"D","f":5,"t":64,"v":26},{"p":"D","f":5,"t":131,"v":26},{"p":"D","f":5,"t":164,"v":34},{"p":"D","f":5,"t":197,"v":37},{"p":"D","f":5,"t":224,"v":51},{"p":"D","f":5,"t":241,"v":52},{"p":"D","f":5,"t":254,"v":34},{"p":"D","f":5,"t":264,"v":19},{"p":"D","f":5,"t":277,"v":21},{"p":"D","f":5,"t":294,"v":23},{"p":"D","f":5,"t":311,"v":30},{"p":"D","f":5,"t":324,"v":16},{"p":"D","f":5,"t":337,"v":8},{"p":"D","f":5,"t":357,"v":11},{"p":"D","f":5,"t":374,"v":7},{"p":"D","f":5,"t":384,"v":16},{"p":"D","f":5,"t":397,"v":1},{"p":"D","f":5,"t":431,"v":1},{"p":"D","f":5,"t":447,"v":11},{"p":"D","f":5,"t":461,"v":-1}
],
"N":[
{"p":"B","k":"thick","s":"1","t":26,"v":112},{"p":"B","k":"thick","s":"1","t":126,"v":112},{"p":"B","k":"thick","s":"2","t":304,"v":81},{"p":"B","k":"thick","s":"2","t":407,"v":81},
{"p":"B","k":"dash","s":"1","t":126,"v":112},{"p":"B","k":"dash","s":"1","t":404,"v":112},{"p":"B","k":"dash","s":"2","t":26,"v":81},{"p":"B","k":"dash","s":"2","t":304,"v":81},
{"p":"B","k":"shaft","s":"1","t":286,"v":112},{"p":"B","k":"shaft","s":"1","t":286,"v":85},
{"p":"B","k":"up","t":286,"v":111.5},{"p":"B","k":"down","t":286,"v":85.5},
{"p":"B","k":"txt","txt":"phase","t":316,"v":57},{"p":"B","k":"txt","txt":"change","t":316,"v":34},
{"p":"C","k":"thick","s":"1","t":26,"v":113},{"p":"C","k":"thick","s":"1","t":126,"v":113},{"p":"C","k":"thick","s":"2","t":341,"v":78},{"p":"C","k":"thick","s":"2","t":441,"v":56},
{"p":"C","k":"dash","s":"1","t":126,"v":113},{"p":"C","k":"dash","s":"1","t":424,"v":113},{"p":"C","k":"dash","s":"2","t":39,"v":142},{"p":"C","k":"dash","s":"2","t":341,"v":78},
{"p":"C","k":"shaft","s":"1","t":398,"v":104},{"p":"C","k":"shaft","s":"1","t":392,"v":79},
{"p":"C","k":"up","t":397.8,"v":103.5},{"p":"C","k":"down","t":392.2,"v":79.5},
{"p":"C","k":"txt","txt":"frequency","t":336,"v":43},{"p":"C","k":"txt","txt":"change","t":336,"v":21},
{"p":"A","k":"txt","txt":"no change","t":372,"v":70},
{"p":"D","k":"txt","txt":"orbit","t":349,"v":61},{"p":"D","k":"txt","txt":"change","t":349,"v":41}
]
},
"spacing":20,
"vconcat":[
{"hconcat":[
{"width":471,"height":149,
"title":{"text":"A","orient":"left","anchor":"end","angle":0,"align":"right","baseline":"top","fontSize":24,"fontWeight":"normal","offset":0,"dx":27,"frame":"group","color":"black"},
"encoding":{"x":{"field":"t","type":"quantitative","scale":{"domain":[0,471],"nice":false,"zero":false},"axis":{"orient":"top","title":"Foot Positions","labels":false,"ticks":false,"domain":false,"grid":false,"titleFontSize":29,"titleFontWeight":"normal","titlePadding":5,"titleBaseline":"alphabetic","titleColor":"black"}},
"y":{"field":"v","type":"quantitative","scale":{"domain":[0,149],"nice":false,"zero":false},"axis":{"title":"position","labels":false,"ticks":false,"domain":false,"grid":false,"titleFontSize":22,"titleFontWeight":"normal","titlePadding":0,"titleColor":"black"}}},
"layer":[
{"data":{"name":"L"},"transform":[{"filter":"datum.p=='*'||datum.p=='A'"}],"mark":{"type":"line","interpolate":"monotone","clip":true},"encoding":{"color":{"field":"f","type":"nominal","legend":null},"strokeWidth":{"field":"f","type":"ordinal","scale":{"domain":[1,2,3,4,5,6],"range":[2,3.5,2.5,3.5,2,3.5]},"legend":null}}},
{"data":{"values":[{"t":134,"t2":270,"v":4,"v2":146}]},"mark":{"type":"rect","fill":{"gradient":"radial","x1":0.5,"y1":0.5,"r1":0,"x2":0.5,"y2":0.5,"r2":0.72,"stops":[{"offset":0,"color":"#8c8c8c"},{"offset":1,"color":"#ffffff"}]},"fillOpacity":0.5,"stroke":"black","strokeWidth":1},"encoding":{"x2":{"field":"t2"},"y2":{"field":"v2"}}},
{"data":{"values":[{"t":204,"v":78,"txt":"Perturbation"}]},"mark":{"type":"text","angle":270,"fontSize":18,"align":"center","baseline":"middle","color":"black"},"encoding":{"text":{"field":"txt"}}}
]},
{"width":466,"height":149,
"encoding":{"x":{"field":"t","type":"quantitative","scale":{"domain":[0,466],"nice":false,"zero":false},"axis":{"orient":"top","title":"Residual Phases of Feet","labels":false,"ticks":false,"domain":false,"grid":false,"titleFontSize":29,"titleFontWeight":"normal","titlePadding":5,"titleBaseline":"alphabetic","titleColor":"black"}},
"y":{"field":"v","type":"quantitative","scale":{"domain":[0,149],"nice":false,"zero":false},"axis":{"title":"residual phase","labels":false,"ticks":false,"domain":false,"grid":false,"titleFontSize":22,"titleFontWeight":"normal","titlePadding":0,"titleColor":"black"}}},
"layer":[
{"data":{"name":"R"},"transform":[{"filter":"datum.p=='A'"}],"mark":{"type":"line","interpolate":"monotone","clip":true},"encoding":{"color":{"field":"f","type":"nominal","legend":null},"strokeWidth":{"field":"f","type":"ordinal","scale":{"domain":[1,2,3,4,5,6],"range":[2,3.5,2.5,3.5,2,3.5]},"legend":null},"detail":{"field":"s"}}},
{"data":{"values":[{"t":136,"t2":271,"v":4,"v2":147}]},"mark":{"type":"rect","fill":{"gradient":"radial","x1":0.5,"y1":0.5,"r1":0,"x2":0.5,"y2":0.5,"r2":0.72,"stops":[{"offset":0,"color":"#8c8c8c"},{"offset":1,"color":"#ffffff"}]},"fillOpacity":0.5,"stroke":"black","strokeWidth":1},"encoding":{"x2":{"field":"t2"},"y2":{"field":"v2"}}},
{"data":{"values":[{"t":205,"v":74,"txt":"Perturbation"}]},"mark":{"type":"text","angle":270,"fontSize":18,"align":"center","baseline":"middle","color":"black"},"encoding":{"text":{"field":"txt"}}},
{"data":{"name":"N"},"transform":[{"filter":"datum.p=='A'&&datum.k=='txt'"}],"mark":{"type":"text","align":"left","baseline":"alphabetic","fontSize":18,"color":"black"},"encoding":{"text":{"field":"txt"}}}
]}
],"spacing":12},
{"spacing":21,"vconcat":[
{"hconcat":[
{"width":471,"height":149,
"title":{"text":"B","orient":"left","anchor":"end","angle":0,"align":"right","baseline":"top","fontSize":24,"fontWeight":"normal","offset":0,"dx":27,"frame":"group","color":"black"},
"encoding":{"x":{"field":"t","type":"quantitative","scale":{"domain":[0,471],"nice":false,"zero":false},"axis":null},
"y":{"field":"v","type":"quantitative","scale":{"domain":[0,149],"nice":false,"zero":false},"axis":{"title":"position","labels":false,"ticks":false,"domain":false,"grid":false,"titleFontSize":22,"titleFontWeight":"normal","titlePadding":0,"titleColor":"black"}}},
"layer":[
{"data":{"name":"G"},"mark":{"type":"line","interpolate":"monotone","clip":true,"color":"#b3b3b3","strokeWidth":2.5},"encoding":{"detail":{"field":"s"}}},
{"data":{"name":"L"},"transform":[{"filter":"datum.p=='*'||datum.p=='B'"}],"mark":{"type":"line","interpolate":"monotone","clip":true},"encoding":{"color":{"field":"f","type":"nominal","legend":null},"strokeWidth":{"field":"f","type":"ordinal","scale":{"domain":[1,2,3,4,5,6],"range":[2,3.5,2.5,3.5,2,3.5]},"legend":null}}},
{"data":{"values":[{"t":134,"t2":270,"v":2,"v2":144}]},"mark":{"type":"rect","fill":{"gradient":"radial","x1":0.5,"y1":0.5,"r1":0,"x2":0.5,"y2":0.5,"r2":0.72,"stops":[{"offset":0,"color":"#8c8c8c"},{"offset":1,"color":"#ffffff"}]},"fillOpacity":0.5,"stroke":"black","strokeWidth":1},"encoding":{"x2":{"field":"t2"},"y2":{"field":"v2"}}},
{"data":{"values":[{"t":204,"v":76,"txt":"Perturbation"}]},"mark":{"type":"text","angle":270,"fontSize":18,"align":"center","baseline":"middle","color":"black"},"encoding":{"text":{"field":"txt"}}}
]},
{"width":466,"height":149,
"encoding":{"x":{"field":"t","type":"quantitative","scale":{"domain":[0,466],"nice":false,"zero":false},"axis":null},
"y":{"field":"v","type":"quantitative","scale":{"domain":[0,149],"nice":false,"zero":false},"axis":{"title":"residual phase","labels":false,"ticks":false,"domain":false,"grid":false,"titleFontSize":22,"titleFontWeight":"normal","titlePadding":0,"titleColor":"black"}}},
"layer":[
{"data":{"name":"R"},"transform":[{"filter":"datum.p=='B'"}],"mark":{"type":"line","interpolate":"monotone","clip":true},"encoding":{"color":{"field":"f","type":"nominal","legend":null},"strokeWidth":{"field":"f","type":"ordinal","scale":{"domain":[1,2,3,4,5,6],"range":[2,3.5,2.5,3.5,2,3.5]},"legend":null},"detail":{"field":"s"}}},
{"data":{"name":"N"},"transform":[{"filter":"datum.p=='B'&&datum.k=='thick'"}],"mark":{"type":"line","color":"black","strokeWidth":5,"clip":true},"encoding":{"detail":{"field":"s"}}},
{"data":{"name":"N"},"transform":[{"filter":"datum.p=='B'&&datum.k=='dash'"}],"mark":{"type":"line","color":"black","strokeWidth":2.5,"strokeDash":[7,5],"clip":true},"encoding":{"detail":{"field":"s"}}},
{"data":{"name":"N"},"transform":[{"filter":"datum.p=='B'&&datum.k=='shaft'"}],"mark":{"type":"line","color":"black","strokeWidth":2.5},"encoding":{"detail":{"field":"s"}}},
{"data":{"name":"N"},"transform":[{"filter":"datum.p=='B'&&(datum.k=='up'||datum.k=='down')"}],"mark":{"type":"point","filled":true,"color":"black","opacity":1,"size":150},"encoding":{"shape":{"field":"k","type":"nominal","scale":{"domain":["up","down"],"range":["triangle-up","triangle-down"]},"legend":null}}},
{"data":{"values":[{"t":136,"t2":271,"v":3,"v2":144}]},"mark":{"type":"rect","fill":{"gradient":"radial","x1":0.5,"y1":0.5,"r1":0,"x2":0.5,"y2":0.5,"r2":0.72,"stops":[{"offset":0,"color":"#8c8c8c"},{"offset":1,"color":"#ffffff"}]},"fillOpacity":0.5,"stroke":"black","strokeWidth":1},"encoding":{"x2":{"field":"t2"},"y2":{"field":"v2"}}},
{"data":{"values":[{"t":205,"v":76,"txt":"Perturbation"}]},"mark":{"type":"text","angle":270,"fontSize":18,"align":"center","baseline":"middle","color":"black"},"encoding":{"text":{"field":"txt"}}},
{"data":{"name":"N"},"transform":[{"filter":"datum.p=='B'&&datum.k=='txt'"}],"mark":{"type":"text","align":"left","baseline":"alphabetic","fontSize":18,"color":"black"},"encoding":{"text":{"field":"txt"}}}
]}
],"spacing":12},
{"spacing":9,"vconcat":[
{"hconcat":[
{"width":471,"height":149,
"title":{"text":"C","orient":"left","anchor":"end","angle":0,"align":"right","baseline":"top","fontSize":24,"fontWeight":"normal","offset":0,"dx":27,"frame":"group","color":"black"},
"encoding":{"x":{"field":"t","type":"quantitative","scale":{"domain":[0,471],"nice":false,"zero":false},"axis":null},
"y":{"field":"v","type":"quantitative","scale":{"domain":[0,149],"nice":false,"zero":false},"axis":{"title":"position","labels":false,"ticks":false,"domain":false,"grid":false,"titleFontSize":22,"titleFontWeight":"normal","titlePadding":0,"titleColor":"black"}}},
"layer":[
{"data":{"name":"L"},"transform":[{"filter":"datum.p=='*'||datum.p=='C'"}],"mark":{"type":"line","interpolate":"monotone","clip":true},"encoding":{"color":{"field":"f","type":"nominal","legend":null},"strokeWidth":{"field":"f","type":"ordinal","scale":{"domain":[1,2,3,4,5,6],"range":[2,3.5,2.5,3.5,2,3.5]},"legend":null}}},
{"data":{"values":[{"t":134,"t2":270,"v":3,"v2":145}]},"mark":{"type":"rect","fill":{"gradient":"radial","x1":0.5,"y1":0.5,"r1":0,"x2":0.5,"y2":0.5,"r2":0.72,"stops":[{"offset":0,"color":"#8c8c8c"},{"offset":1,"color":"#ffffff"}]},"fillOpacity":0.5,"stroke":"black","strokeWidth":1},"encoding":{"x2":{"field":"t2"},"y2":{"field":"v2"}}},
{"data":{"values":[{"t":204,"v":76,"txt":"Perturbation"}]},"mark":{"type":"text","angle":270,"fontSize":18,"align":"center","baseline":"middle","color":"black"},"encoding":{"text":{"field":"txt"}}}
]},
{"width":466,"height":149,
"encoding":{"x":{"field":"t","type":"quantitative","scale":{"domain":[0,466],"nice":false,"zero":false},"axis":null},
"y":{"field":"v","type":"quantitative","scale":{"domain":[0,149],"nice":false,"zero":false},"axis":{"title":"residual phase","labels":false,"ticks":false,"domain":false,"grid":false,"titleFontSize":22,"titleFontWeight":"normal","titlePadding":0,"titleColor":"black"}}},
"layer":[
{"data":{"name":"R"},"transform":[{"filter":"datum.p=='C'"}],"mark":{"type":"line","interpolate":"monotone","clip":true},"encoding":{"color":{"field":"f","type":"nominal","legend":null},"strokeWidth":{"field":"f","type":"ordinal","scale":{"domain":[1,2,3,4,5,6],"range":[2,3.5,2.5,3.5,2,3.5]},"legend":null},"detail":{"field":"s"}}},
{"data":{"name":"N"},"transform":[{"filter":"datum.p=='C'&&datum.k=='thick'"}],"mark":{"type":"line","color":"black","strokeWidth":5,"clip":true},"encoding":{"detail":{"field":"s"}}},
{"data":{"name":"N"},"transform":[{"filter":"datum.p=='C'&&datum.k=='dash'"}],"mark":{"type":"line","color":"black","strokeWidth":2.5,"strokeDash":[7,5],"clip":true},"encoding":{"detail":{"field":"s"}}},
{"data":{"name":"N"},"transform":[{"filter":"datum.p=='C'&&datum.k=='shaft'"}],"mark":{"type":"line","color":"black","strokeWidth":2.5},"encoding":{"detail":{"field":"s"}}},
{"data":{"name":"N"},"transform":[{"filter":"datum.p=='C'&&(datum.k=='up'||datum.k=='down')"}],"mark":{"type":"point","filled":true,"color":"black","opacity":1,"size":150,"angle":13},"encoding":{"shape":{"field":"k","type":"nominal","scale":{"domain":["up","down"],"range":["triangle-up","triangle-down"]},"legend":null}}},
{"data":{"values":[{"t":136,"t2":271,"v":4,"v2":146}]},"mark":{"type":"rect","fill":{"gradient":"radial","x1":0.5,"y1":0.5,"r1":0,"x2":0.5,"y2":0.5,"r2":0.72,"stops":[{"offset":0,"color":"#8c8c8c"},{"offset":1,"color":"#ffffff"}]},"fillOpacity":0.5,"stroke":"black","strokeWidth":1},"encoding":{"x2":{"field":"t2"},"y2":{"field":"v2"}}},
{"data":{"values":[{"t":205,"v":79,"txt":"Perturbation"}]},"mark":{"type":"text","angle":270,"fontSize":18,"align":"center","baseline":"middle","color":"black"},"encoding":{"text":{"field":"txt"}}},
{"data":{"name":"N"},"transform":[{"filter":"datum.p=='C'&&datum.k=='txt'"}],"mark":{"type":"text","align":"left","baseline":"alphabetic","fontSize":18,"color":"black"},"encoding":{"text":{"field":"txt"}}}
]}
],"spacing":12},
{"hconcat":[
{"width":471,"height":149,
"title":{"text":"D","orient":"left","anchor":"end","angle":0,"align":"right","baseline":"top","fontSize":24,"fontWeight":"normal","offset":0,"dx":27,"frame":"group","color":"black"},
"encoding":{"x":{"field":"t","type":"quantitative","scale":{"domain":[0,471],"nice":false,"zero":false},"axis":{"title":"time","labels":false,"ticks":false,"domain":false,"grid":false,"titleFontSize":22,"titleFontWeight":"normal","titlePadding":9,"titleColor":"black"}},
"y":{"field":"v","type":"quantitative","scale":{"domain":[0,149],"nice":false,"zero":false},"axis":{"title":"position","labels":false,"ticks":false,"domain":false,"grid":false,"titleFontSize":22,"titleFontWeight":"normal","titlePadding":0,"titleColor":"black"}}},
"layer":[
{"data":{"name":"L"},"transform":[{"filter":"datum.p=='*'||datum.p=='D'"}],"mark":{"type":"line","interpolate":"monotone","clip":true},"encoding":{"color":{"field":"f","type":"nominal","legend":null},"strokeWidth":{"field":"f","type":"ordinal","scale":{"domain":[1,2,3,4,5,6],"range":[2,3.5,2.5,3.5,2,3.5]},"legend":null}}},
{"data":{"values":[{"t":134,"t2":270,"v":0,"v2":142}]},"mark":{"type":"rect","fill":{"gradient":"radial","x1":0.5,"y1":0.5,"r1":0,"x2":0.5,"y2":0.5,"r2":0.72,"stops":[{"offset":0,"color":"#8c8c8c"},{"offset":1,"color":"#ffffff"}]},"fillOpacity":0.5,"stroke":"black","strokeWidth":1},"encoding":{"x2":{"field":"t2"},"y2":{"field":"v2"}}},
{"data":{"values":[{"t":204,"v":73,"txt":"Perturbation"}]},"mark":{"type":"text","angle":270,"fontSize":18,"align":"center","baseline":"middle","color":"black"},"encoding":{"text":{"field":"txt"}}}
]},
{"width":466,"height":149,
"encoding":{"x":{"field":"t","type":"quantitative","scale":{"domain":[0,466],"nice":false,"zero":false},"axis":{"title":"time","labels":false,"ticks":false,"domain":false,"grid":false,"titleFontSize":22,"titleFontWeight":"normal","titlePadding":9,"titleColor":"black"}},
"y":{"field":"v","type":"quantitative","scale":{"domain":[0,149],"nice":false,"zero":false},"axis":{"title":"residual phase","labels":false,"ticks":false,"domain":false,"grid":false,"titleFontSize":22,"titleFontWeight":"normal","titlePadding":0,"titleColor":"black"}}},
"layer":[
{"data":{"name":"R"},"transform":[{"filter":"datum.p=='D'"}],"mark":{"type":"line","interpolate":"monotone","clip":true},"encoding":{"color":{"field":"f","type":"nominal","legend":null},"strokeWidth":{"field":"f","type":"ordinal","scale":{"domain":[1,2,3,4,5,6],"range":[2,3.5,2.5,3.5,2,3.5]},"legend":null},"detail":{"field":"s"}}},
{"data":{"values":[{"t":136,"t2":271,"v":0,"v2":142}]},"mark":{"type":"rect","fill":{"gradient":"radial","x1":0.5,"y1":0.5,"r1":0,"x2":0.5,"y2":0.5,"r2":0.72,"stops":[{"offset":0,"color":"#8c8c8c"},{"offset":1,"color":"#ffffff"}]},"fillOpacity":0.5,"stroke":"black","strokeWidth":1},"encoding":{"x2":{"field":"t2"},"y2":{"field":"v2"}}},
{"data":{"values":[{"t":205,"v":73,"txt":"Perturbation"}]},"mark":{"type":"text","angle":270,"fontSize":18,"align":"center","baseline":"middle","color":"black"},"encoding":{"text":{"field":"txt"}}},
{"data":{"name":"N"},"transform":[{"filter":"datum.p=='D'&&datum.k=='txt'"}],"mark":{"type":"text","align":"left","baseline":"alphabetic","fontSize":18,"color":"black"},"encoding":{"text":{"field":"txt"}}}
]}
],"spacing":12}
]}
]}
]
}
